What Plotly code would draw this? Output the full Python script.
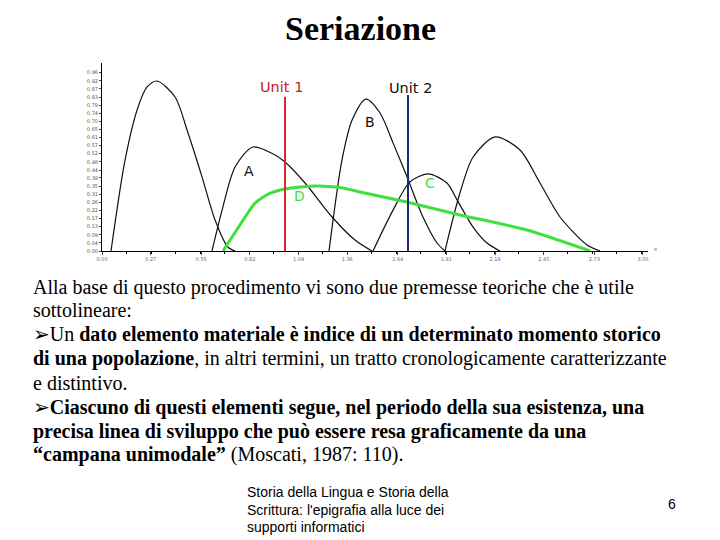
import plotly.graph_objects as go

# ---- data ----
curve1_x = [0.05, 0.128, 0.20, 0.25, 0.305, 0.405, 0.477, 0.555, 0.627, 0.699, 0.738]
curve1_y = [0.0, 0.49, 0.775, 0.883, 0.915, 0.829, 0.635, 0.398, 0.167, 0.02, 0.0]

curveA_x = [0.61, 0.666, 0.738, 0.837, 0.96, 1.015, 1.126, 1.276, 1.403, 1.497]
curveA_y = [0.0, 0.22, 0.452, 0.56, 0.517, 0.479, 0.366, 0.183, 0.059, 0.0]

curveB_x = [1.259, 1.331, 1.387, 1.464, 1.542, 1.614, 1.692, 1.78, 1.858, 1.902]
curveB_y = [0.0, 0.49, 0.705, 0.818, 0.743, 0.582, 0.398, 0.183, 0.043, 0.0]

curveC_x = [1.503, 1.614, 1.708, 1.808, 1.913, 1.969, 2.058, 2.135, 2.207]
curveC_y = [0.0, 0.22, 0.372, 0.415, 0.366, 0.275, 0.129, 0.043, 0.0]

curveE_x = [1.902, 1.985, 2.058, 2.18, 2.318, 2.429, 2.54, 2.69, 2.762]
curveE_y = [0.0, 0.312, 0.506, 0.614, 0.544, 0.366, 0.183, 0.032, 0.0]

curveD_x = [0.671, 0.765, 0.849, 0.93, 1.015, 1.10, 1.198, 1.32, 1.431, 1.697, 1.986, 2.357, 2.707]
curveD_y = [0.0, 0.14, 0.258, 0.31, 0.334, 0.345, 0.35, 0.342, 0.318, 0.262, 0.194, 0.113, 0.0]

unit1_x = 1.015
unit2_x = 1.697
unit_top = 0.83

x_tickvals = [0.0, 0.27, 0.55, 0.82, 1.09, 1.36, 1.64, 1.91, 2.18, 2.45, 2.73, 3.00]
x_ticktext = ["0.00", "0.27", "0.55", "0.82", "1.09", "1.36", "1.64", "1.91", "2.18", "2.45", "2.73", "3.00"]
y_tickvals = [0.0, 0.044, 0.087, 0.131, 0.175, 0.218, 0.262, 0.305, 0.349, 0.393, 0.436, 0.48,
              0.524, 0.567, 0.611, 0.655, 0.698, 0.742, 0.785, 0.829, 0.873, 0.916, 0.96]
y_ticktext = ["0.00", "0.04", "0.09", "0.13", "0.17", "0.22", "0.26", "0.31", "0.35", "0.39", "0.44", "0.48",
              "0.52", "0.57", "0.61", "0.65", "0.70", "0.74", "0.79", "0.83", "0.87", "0.92", "0.96"]

W, H = 720, 540
OFF = 8  # page body margin of the viewer
def px(x):
    return (x - OFF) / W
def py(y):
    return 1 - (y - OFF) / H

fig = go.Figure()
for cx, cy in [(curve1_x, curve1_y), (curveA_x, curveA_y), (curveB_x, curveB_y),
               (curveC_x, curveC_y), (curveE_x, curveE_y)]:
    fig.add_trace(go.Scatter(x=cx, y=cy, mode="lines",
                             line=dict(color="#111111", width=1.2, shape="spline", smoothing=0.8),
                             hoverinfo="skip", showlegend=False))
fig.add_trace(go.Scatter(x=curveD_x, y=curveD_y, mode="lines",
                         line=dict(color="#3ee03e", width=3, shape="spline", smoothing=0.6),
                         hoverinfo="skip", showlegend=False))
fig.add_trace(go.Scatter(x=[unit1_x, unit1_x], y=[0, unit_top], mode="lines",
                         line=dict(color="#e0262b", width=2), hoverinfo="skip", showlegend=False))
fig.add_trace(go.Scatter(x=[unit2_x, unit2_x], y=[0, unit_top + 0.01], mode="lines",
                         line=dict(color="#1f2a7a", width=2), hoverinfo="skip", showlegend=False))

fig.update_xaxes(domain=[px(102), px(648)], range=[0, 3.028], showgrid=False, zeroline=False,
                 showline=True, linecolor="#000", linewidth=1, automargin=False,
                 tickvals=x_tickvals, ticktext=x_ticktext, ticks="outside", ticklen=3,
                 tickfont=dict(size=5, color="#666", family="DejaVu Sans"),
                 minor=dict(ticks="outside", ticklen=2, dtick=0.136, tickcolor="#000"))
fig.update_yaxes(domain=[py(251), py(63)], range=[0, 1.012], showgrid=False, zeroline=False,
                 showline=True, linecolor="#000", linewidth=1, automargin=False,
                 tickvals=y_tickvals, ticktext=y_ticktext, ticks="outside", ticklen=2,
                 tickfont=dict(size=5, color="#555", family="DejaVu Sans"))

ann = []
def dlabel(x, y, t, color, size=13):
    ann.append(dict(x=x, y=y, xref="x", yref="y", text=t, showarrow=False,
                    xanchor="center", yanchor="middle",
                    font=dict(family="DejaVu Sans", size=size, color=color)))
dlabel(0.993, 0.883, "Unit 1", "#c8202a", 14.5)
dlabel(1.712, 0.878, "Unit 2", "#111111", 14.5)
dlabel(0.815, 0.431, "A", "#111111", 14)
dlabel(1.487, 0.695, "B", "#111111", 14)
dlabel(1.819, 0.366, "C", "#3ee03e", 14)
dlabel(1.098, 0.296, "D", "#3ee03e", 14)
ann.append(dict(x=px(656), y=py(249), xref="paper", yref="paper", text="x", showarrow=False,
                xanchor="center", yanchor="middle", font=dict(size=6, color="#555")))

# slide texts
ann.append(dict(x=px(360), y=py(28), xref="paper", yref="paper", text="<b>Seriazione</b>",
                showarrow=False, xanchor="center", yanchor="middle", height=38, valign="middle",
                font=dict(family="Liberation Serif", size=34, color="#000")))

arrow = "<span style='font-family:DejaVu Sans'>➢</span>"
lines = [
    (287, "Alla base di questo procedimento vi sono due premesse teoriche che è utile"),
    (310, "sottolineare:"),
    (334, arrow + "Un <b>dato elemento materiale è indice di un determinato momento storico</b>"),
    (358, "<b>di una popolazione</b>, in altri termini, un tratto cronologicamente caratterizzante"),
    (383, "e distintivo."),
    (407, arrow + "<b>Ciascuno di questi elementi segue, nel periodo della sua esistenza, una</b>"),
    (431, "<b>precisa linea di sviluppo che può essere resa graficamente da una</b>"),
    (455, "<b>“campana unimodale”</b> (Moscati, 1987: 110)."),
]
for yy, t in lines:
    ann.append(dict(x=px(31), y=py(yy), xref="paper", yref="paper", text=t, showarrow=False,
                    xanchor="left", yanchor="middle",
                    font=dict(family="Liberation Serif", size=20, color="#000")))

footer = ["Storia della Lingua e Storia della", "Scrittura: l'epigrafia alla luce dei", "supporti informatici"]
for i, t in enumerate(footer):
    ann.append(dict(x=px(245), y=py(492 + 17.5 * i), xref="paper", yref="paper", text=t,
                    showarrow=False, xanchor="left", yanchor="middle",
                    font=dict(family="Liberation Sans", size=14, color="#000")))
ann.append(dict(x=px(672), y=py(504), xref="paper", yref="paper", text="6", showarrow=False,
                xanchor="center", yanchor="middle",
                font=dict(family="Liberation Sans", size=14, color="#000")))

fig.update_layout(width=W, height=H, margin=dict(l=0, r=0, t=0, b=0, autoexpand=False),
                  paper_bgcolor="white", plot_bgcolor="white", annotations=ann,
                  showlegend=False)
fig.write_html("out.html")
